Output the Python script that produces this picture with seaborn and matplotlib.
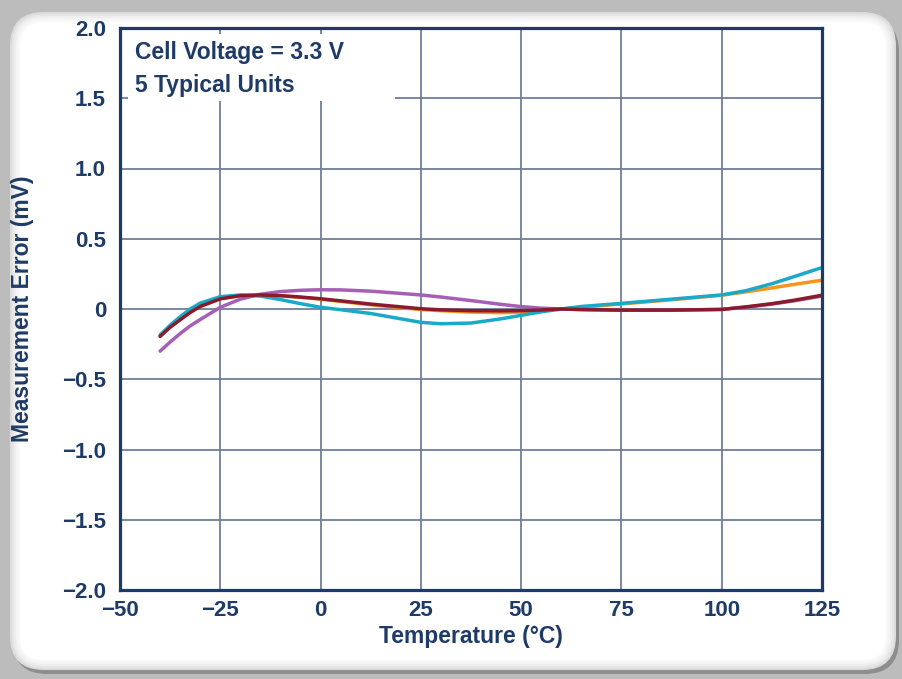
import numpy as np
import pandas as pd
import seaborn as sns
import matplotlib
matplotlib.use("Agg")
import matplotlib.pyplot as plt
from matplotlib.patches import FancyBboxPatch, Rectangle
from matplotlib.transforms import IdentityTransform

# Data
temps = [-40, -37.5, -35, -32.5, -30, -25, -20, -15, -10, -5, 0, 5, 12.5, 25, 30,
         37.5, 45, 50, 55, 60, 65, 75, 87.5, 100, 106, 112.5, 118, 125]

unit_maroon = [-0.195, -0.13, -0.077, -0.025, 0.018, 0.072, 0.095, 0.100, 0.095, 0.085,
               0.073, 0.058, 0.035, 0.002, -0.006, -0.012, -0.013, -0.012, -0.007, 0.0,
               -0.004, -0.008, -0.008, -0.003, 0.015, 0.038, 0.062, 0.098]
unit_orange = [-0.19, -0.125, -0.072, -0.02, 0.022, 0.074, 0.096, 0.100, 0.094, 0.083,
               0.07, 0.054, 0.03, -0.004, -0.012, -0.022, -0.026, -0.022, -0.012, 0.0,
               0.012, 0.036, 0.066, 0.098, 0.122, 0.15, 0.175, 0.205]
unit_cyan = [-0.185, -0.115, -0.055, 0.0, 0.042, 0.088, 0.100, 0.092, 0.067, 0.038,
             0.012, -0.005, -0.032, -0.095, -0.105, -0.1, -0.07, -0.045, -0.02, 0.0,
             0.018, 0.04, 0.07, 0.1, 0.13, 0.18, 0.23, 0.295]
unit_purple = [-0.30, -0.235, -0.175, -0.12, -0.075, 0.012, 0.07, 0.105, 0.124, 0.133,
               0.137, 0.136, 0.127, 0.1, 0.085, 0.06, 0.033, 0.017, 0.006, 0.0,
               -0.004, -0.008, -0.008, -0.003, 0.013, 0.035, 0.058, 0.092]

xticks = [-50, -25, 0, 25, 50, 75, 100, 125]
xtick_labels = ["\u221250", "\u221225", "0", "25", "50", "75", "100", "125"]
yticks = [-2.0, -1.5, -1.0, -0.5, 0, 0.5, 1.0, 1.5, 2.0]
ytick_labels = ["\u22122.0", "\u22121.5", "\u22121.0", "\u22120.5", "0", "0.5", "1.0", "1.5", "2.0"]

# long-form table for seaborn
df = pd.concat([
    pd.DataFrame({"Temperature": temps, "Error": unit_orange, "Unit": "orange"}),
    pd.DataFrame({"Temperature": temps, "Error": unit_purple, "Unit": "purple"}),
    pd.DataFrame({"Temperature": temps, "Error": unit_cyan, "Unit": "cyan"}),
    pd.DataFrame({"Temperature": temps, "Error": unit_maroon, "Unit": "maroon"}),
])
colors = {"orange": "#f7941d", "purple": "#a55fb5", "cyan": "#1aa9c9", "maroon": "#8a1b2c"}

navy = "#1e3a66"
gridc = "#6f7f99"

sns.set_style("white")
plt.rcParams["font.family"] = ["Liberation Sans", "DejaVu Sans"]
plt.rcParams["font.weight"] = "bold"

fig = plt.figure(figsize=(9.02, 6.79), dpi=100)
fig.patch.set_facecolor("#bcbcbc")

# rounded white panel with soft edge (behind the axes)
shadow = FancyBboxPatch((13, 5), 886, 656, boxstyle="round,pad=0,rounding_size=34",
                        transform=IdentityTransform(), facecolor="#8e8e8e", edgecolor="none",
                        zorder=-10)
fig.add_artist(shadow)
edge_cols = ["#dcdcdc", "#e6e6e6", "#eeeeee", "#f4f4f4", "#f9f9f9", "#ffffff"]
for i, c in enumerate(edge_cols):
    d = i * 2
    p = FancyBboxPatch((10 + d, 9 + d), 886 - 2 * d, 658 - 2 * d,
                       boxstyle="round,pad=0,rounding_size=%d" % (34 - d),
                       transform=IdentityTransform(), facecolor=c, edgecolor="none",
                       zorder=-9 + i)
    fig.add_artist(p)

ax = fig.add_axes([120 / 902, 89 / 679, 702 / 902, 562 / 679])
ax.set_facecolor("white")

sns.lineplot(data=df, x="Temperature", y="Error", hue="Unit",
             hue_order=["orange", "purple", "cyan", "maroon"], palette=colors,
             linewidth=2.5, legend=False, ax=ax, sort=False)

ax.set_xlim(-50, 125)
ax.set_ylim(-2.0, 2.0)
ax.set_xticks(xticks)
ax.set_xticklabels(xtick_labels)
ax.set_yticks(yticks)
ax.set_yticklabels(ytick_labels)
ax.tick_params(length=0, labelsize=16, labelcolor=navy)
ax.tick_params(axis="y", pad=10)
ax.tick_params(axis="x", pad=7)

ax.set_axisbelow(True)
ax.grid(True, color=gridc, linewidth=1.3)
for s in ax.spines.values():
    s.set_color(navy)
    s.set_linewidth(2.3)
    s.set_visible(True)

# white box behind the annotation
ax.add_patch(Rectangle((-48, 1.477), 66.6, 0.478, facecolor="white", edgecolor="none", zorder=1))
ax.text(0.0214, 0.957, "Cell Voltage = 3.3 V", transform=ax.transAxes, fontsize=16.5,
        fontweight="bold", color=navy, va="center", ha="left", zorder=3)
ax.text(0.0214, 0.897, "5 Typical Units", transform=ax.transAxes, fontsize=16.5,
        fontweight="bold", color=navy, va="center", ha="left", zorder=3)

ax.set_xlabel("Temperature (\u00b0C)", fontsize=16.5, fontweight="bold", color=navy, va="center")
ax.set_ylabel("Measurement Error (mV)", fontsize=16.5, fontweight="bold", color=navy, va="center")
ax.xaxis.set_label_coords(0.5, -0.082)
ax.yaxis.set_label_coords(-0.1396, 0.5)

fig.savefig("out.png", dpi=100, facecolor=fig.get_facecolor())
